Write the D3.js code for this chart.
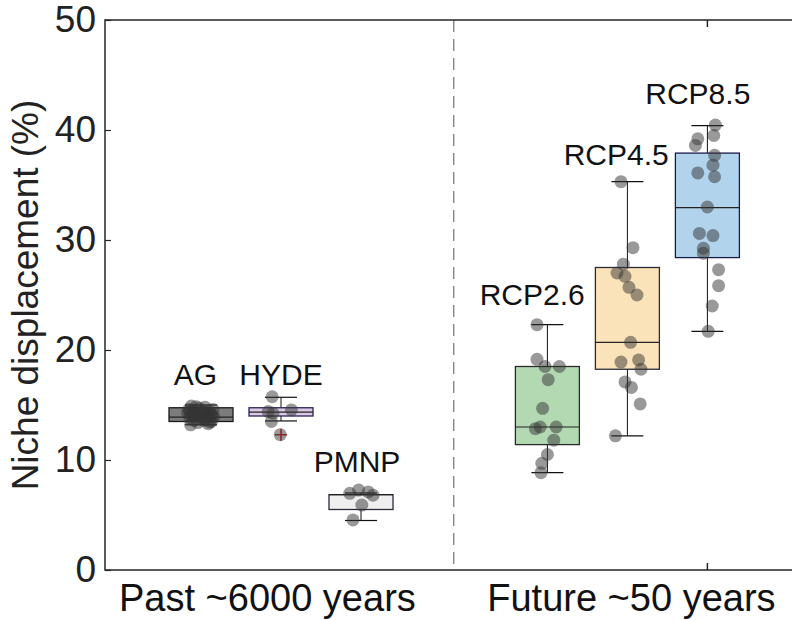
<!DOCTYPE html>
<html>
<head>
<meta charset="utf-8">
<script src="https://cdn.jsdelivr.net/npm/d3@7"></script>
<style>
  html, body { margin: 0; padding: 0; background: #fff; }
  svg { display: block; font-family: "Liberation Sans", Arial, sans-serif; }
</style>
</head>
<body>
<svg id="chart" width="792" height="621"></svg>
<script>
// Groups, their x positions and labels
const groups    = ["AG", "HYDE", "PMNP", "RCP2.6", "RCP4.5", "RCP8.5"];
const positions = [1, 2, 3, 5.33, 6.33, 7.33];
const fills     = ["#7c7c7c", "#dcc9e3", "#efefef", "#b3d9b3", "#fbe3b9", "#b1d3eb"];
const edges     = ["#1a1a1a", "#25255a", "#2a2a3a", "#2b2b2b", "#2b2b3b", "#1c1c4a"];

// Box statistics: lower whisker, Q1, median, Q3, upper whisker
const whiskerLo = [13.2, 13.55, 4.5, 8.85, 12.2, 21.7];
const q1        = [13.5, 14.0, 5.5, 11.4, 18.25, 28.4];
const median    = [13.9, 14.35, 6.85, 13.0, 20.7, 32.95];
const q3        = [14.75, 14.75, 6.85, 18.5, 27.5, 37.9];
const whiskerHi = [15.0, 15.7, 7.0, 22.3, 35.3, 40.4];
const outliers  = [[], [12.3], [], [], [], []];

// Individual samples per group and their horizontal jitter (x units)
const samples = [
  [14.9, 14.8, 14.7, 14.6, 14.5, 14.5, 14.4, 14.3, 14.2, 14.1, 14.0, 14.0, 13.9, 13.8, 13.7, 13.6, 13.5, 13.4, 13.3, 13.2,
   14.85, 14.6, 14.4, 14.2, 14.0, 13.8, 13.6, 13.45, 14.3, 13.9],
  [15.75, 14.55, 14.4, 14.25, 13.5, 12.3],
  [7.27, 7.1, 6.97, 6.8, 5.9, 4.55],
  [22.3, 19.15, 18.5, 18.5, 17.3, 14.7, 12.85, 13.0, 13.0, 11.8, 10.5, 9.7, 8.85],
  [35.3, 29.3, 27.8, 27.0, 26.7, 25.7, 25.0, 20.7, 18.9, 19.1, 18.25, 17.1, 16.6, 15.1, 12.2],
  [40.45, 39.5, 39.2, 38.6, 37.7, 36.8, 36.1, 35.75, 33.0, 30.6, 30.4, 29.25, 28.8, 27.3, 25.85, 24.0, 21.7]
];
const jitter = [
  [-0.12, 0.05, -0.02, 0.15, -0.08, 0.10, -0.14, 0.02, 0.12, -0.05, 0.08, -0.11, 0.16, -0.01, 0.06, -0.09, 0.13, -0.04, 0.09, -0.13,
   -0.06, -0.15, 0.04, -0.10, 0.14, -0.14, 0.03, 0.11, -0.17, 0.07],
  [-0.11, 0.13, -0.16, -0.10, -0.12, -0.01],
  [-0.03, 0.09, -0.14, 0.15, 0.01, -0.10],
  [-0.13, -0.13, -0.03, 0.15, 0.01, -0.06, -0.15, -0.09, 0.11, 0.08, 0.00, -0.07, -0.08],
  [-0.08, 0.07, -0.05, -0.13, -0.03, 0.02, 0.12, 0.04, -0.08, 0.14, 0.17, -0.03, 0.05, 0.16, -0.15],
  [0.10, 0.08, -0.12, -0.15, 0.09, 0.07, -0.12, 0.09, 0.00, -0.10, 0.07, -0.05, -0.05, 0.14, 0.14, 0.06, 0.01]
];

// Group label anchors (x units, y value of the baseline)
const labelX = [0.93, 2.0, 2.95, 5.14, 6.19, 7.21];
const labelY = [16.8, 16.8, 8.9, 24.1, 36.8, 42.4];

// Axis ticks and category labels
const yTicks = [0, 10, 20, 30, 40, 50];
const dividerAt = 4.16;
const periodLabels = ["Past ~6000 years", "Future ~50 years"];
const periodLabelAt = [1.83, 6.38];
const periodTickAt = [7.33];

const svg = d3.select("#chart");
const x = d3.scaleLinear().domain([-0.2, 8.4]).range([105, 793]);
const y = d3.scaleLinear().domain([0, 50]).range([570, 20]);
const unit = x(1) - x(0);
const boxW = 0.8 * unit;
const capW = 0.4 * unit;

// Dashed divider between the two periods
svg.append("line")
  .attr("x1", x(dividerAt)).attr("x2", x(dividerAt))
  .attr("y1", y(50)).attr("y2", y(0))
  .attr("stroke", "#555").attr("stroke-width", 1)
  .attr("stroke-dasharray", "12,7");

// Box plots
const g = svg.append("g");
groups.forEach((name, i) => {
  const cx = x(positions[i]);
  const bg = g.append("g");
  // whiskers
  bg.append("line").attr("x1", cx).attr("x2", cx).attr("y1", y(q3[i])).attr("y2", y(whiskerHi[i]))
    .attr("stroke", "#111").attr("stroke-width", 1);
  bg.append("line").attr("x1", cx).attr("x2", cx).attr("y1", y(q1[i])).attr("y2", y(whiskerLo[i]))
    .attr("stroke", "#111").attr("stroke-width", 1);
  [whiskerHi[i], whiskerLo[i]].forEach(v => {
    bg.append("line").attr("x1", cx - capW / 2).attr("x2", cx + capW / 2)
      .attr("y1", y(v)).attr("y2", y(v)).attr("stroke", "#111").attr("stroke-width", 1.2);
  });
  // box
  bg.append("rect")
    .attr("x", cx - boxW / 2).attr("width", boxW)
    .attr("y", y(q3[i])).attr("height", Math.max(1, y(q1[i]) - y(q3[i])))
    .attr("fill", fills[i]).attr("stroke", edges[i]).attr("stroke-width", 1.3);
  // median
  bg.append("line").attr("x1", cx - boxW / 2).attr("x2", cx + boxW / 2)
    .attr("y1", y(median[i])).attr("y2", y(median[i]))
    .attr("stroke", "#222").attr("stroke-width", 1.2);
  // outliers
  outliers[i].forEach(v => {
    bg.append("path")
      .attr("d", `M${cx - 6},${y(v)}H${cx + 6}M${cx},${y(v) - 6}V${y(v) + 6}`)
      .attr("stroke", "#d62020").attr("stroke-width", 1.6);
  });
});

// Sample points
groups.forEach((name, i) => {
  g.append("g").selectAll("circle")
    .data(samples[i])
    .join("circle")
    .attr("cx", (d, k) => x(positions[i] + jitter[i][k]))
    .attr("cy", d => y(d))
    .attr("r", 6.5)
    .attr("fill", "#333")
    .attr("fill-opacity", 0.5);
});

// Group labels above each box
groups.forEach((name, i) => {
  svg.append("text")
    .attr("x", x(labelX[i]))
    .attr("y", y(labelY[i]))
    .attr("text-anchor", "middle")
    .attr("font-size", 30)
    .attr("fill", "#111")
    .text(name);
});

// Frame
const frame = svg.append("g").attr("stroke", "#262626").attr("stroke-width", 1.5).attr("fill", "none");
frame.append("path").attr("d", `M${x(8.4)},${y(50)}H${x(-0.2)}V${y(0)}H${x(8.4)}`);

// Y axis ticks and labels
const yAxis = svg.append("g").attr("transform", `translate(${x(-0.2)},0)`)
  .call(d3.axisLeft(y).tickValues(yTicks).tickSize(-6).tickPadding(9));
yAxis.select(".domain").remove();
yAxis.selectAll(".tick line").attr("stroke", "#262626").attr("stroke-width", 1.2);
yAxis.selectAll(".tick text").attr("font-size", 37).attr("fill", "#222")
  .attr("font-family", "Liberation Sans, Arial, sans-serif");

// Period ticks along top and bottom
periodTickAt.forEach(p => {
  svg.append("line").attr("x1", x(p)).attr("x2", x(p)).attr("y1", y(0)).attr("y2", y(0) - 7)
    .attr("stroke", "#262626").attr("stroke-width", 1.5);
  svg.append("line").attr("x1", x(p)).attr("x2", x(p)).attr("y1", y(50)).attr("y2", y(50) + 7)
    .attr("stroke", "#262626").attr("stroke-width", 1.5);
});

// Period labels
periodLabels.forEach((t, i) => {
  svg.append("text")
    .attr("x", x(periodLabelAt[i])).attr("y", 611)
    .attr("text-anchor", "middle")
    .attr("font-size", 38)
    .attr("fill", "#111")
    .text(t);
});

// Y axis title
svg.append("text")
  .attr("transform", `translate(38,${(y(0) + y(50)) / 2}) rotate(-90)`)
  .attr("text-anchor", "middle")
  .attr("font-size", 37)
  .attr("fill", "#222")
  .text("Niche displacement (%)");
</script>
</body>
</html>
